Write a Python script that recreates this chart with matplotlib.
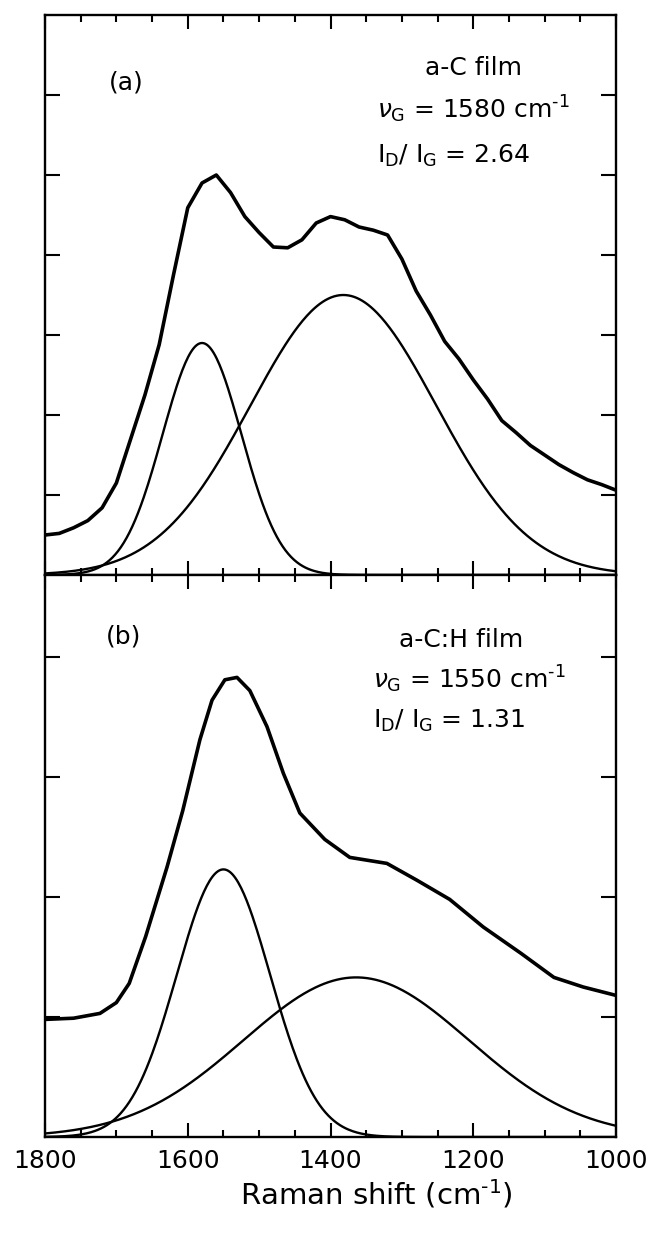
import numpy as np
import matplotlib
matplotlib.use("Agg")
import matplotlib.pyplot as plt
from matplotlib.ticker import MultipleLocator

plt.rcParams["font.family"] = ["DejaVu Sans"]
plt.rcParams["mathtext.fontset"] = "dejavusans"

shift_a = [1800, 1780, 1760, 1740, 1720, 1700, 1680, 1660, 1640, 1620, 1600,
           1580, 1560, 1540, 1520, 1500, 1480, 1460, 1440, 1420, 1400, 1380,
           1360, 1340, 1320, 1300, 1280, 1260, 1240, 1220, 1200, 1180, 1160,
           1140, 1120, 1100, 1080, 1060, 1040, 1020, 1000]
spec_a = [0.50, 0.52, 0.59, 0.68, 0.84, 1.15, 1.70, 2.25, 2.88, 3.75, 4.59,
          4.90, 5.00, 4.78, 4.48, 4.28, 4.10, 4.09, 4.19, 4.40, 4.48, 4.44,
          4.35, 4.31, 4.25, 3.95, 3.55, 3.25, 2.92, 2.70, 2.44, 2.20, 1.93,
          1.78, 1.62, 1.50, 1.38, 1.28, 1.19, 1.13, 1.06]

shift_b = [1800, 1760, 1723, 1700, 1682, 1659, 1629, 1607, 1583, 1566, 1548,
           1531, 1513, 1489, 1466, 1443, 1408, 1373, 1321, 1279, 1233, 1186,
           1133, 1087, 1046, 1000]
spec_b = [0.98, 0.99, 1.03, 1.12, 1.28, 1.67, 2.25, 2.72, 3.31, 3.64, 3.81,
          3.83, 3.72, 3.42, 3.03, 2.70, 2.48, 2.33, 2.28, 2.14, 1.98, 1.75,
          1.53, 1.33, 1.25, 1.18]

# --- fitted Gaussian components: (centre, FWHM, height) ---
g_peak_a = (1580, 130, 2.90)
d_peak_a = (1382, 306, 3.50)
g_peak_b = (1550, 154, 2.23)
d_peak_b = (1364, 372, 1.33)

inv_cm = "cm$^{\\mathrm{\u2010}1}$"
labels_a = ["a-C film", r"$\nu_{\rm G}$ = 1580 " + inv_cm, r"I$_{\rm D}$/ I$_{\rm G}$ = 2.64"]
labels_b = ["a-C:H film", r"$\nu_{\rm G}$ = 1550 " + inv_cm, r"I$_{\rm D}$/ I$_{\rm G}$ = 1.31"]
x_title = "Raman shift (" + inv_cm + ")"


def gauss(x, peak):
    c, w, h = peak
    s = w / 2.3548
    return h * np.exp(-0.5 * ((x - c) / s) ** 2)


W, H = 652, 1238
fig = plt.figure(figsize=(W / 100, H / 100), dpi=100)
left, width = 45 / W, 571 / W
ax_a = fig.add_axes([left, 1 - 575 / H, width, 560 / H])
ax_b = fig.add_axes([left, 1 - 1137 / H, width, 562 / H])

fs = 18
xs = np.linspace(1800, 1000, 400)
for ax, sx, sy, g, d in [(ax_a, shift_a, spec_a, g_peak_a, d_peak_a),
                         (ax_b, shift_b, spec_b, g_peak_b, d_peak_b)]:
    ax.plot(sx, sy, color="black", lw=2.6)
    ax.plot(xs, gauss(xs, g), color="black", lw=1.7)
    ax.plot(xs, gauss(xs, d), color="black", lw=1.7)
    ax.set_xlim(1800, 1000)
    ax.xaxis.set_major_locator(MultipleLocator(200))
    ax.xaxis.set_minor_locator(MultipleLocator(50))
    ax.tick_params(axis="x", which="major", direction="in", top=True, bottom=True,
                   length=10, width=1.5, labelsize=fs, pad=9)
    ax.tick_params(axis="x", which="minor", direction="in", top=True, bottom=True,
                   length=5, width=1.5)
    ax.tick_params(axis="y", direction="in", left=True, right=True,
                   length=11, width=1.5, labelleft=False)
    for sp in ax.spines.values():
        sp.set_linewidth(1.7)

ax_a.set_ylim(0, 7)
ax_a.set_yticks([1, 2, 3, 4, 5, 6])
ax_a.tick_params(axis="x", labelbottom=False)
ax_b.set_ylim(0, 562 / 120)
ax_b.set_yticks([1, 2, 3, 4])

ax_a.text(0.142, 0.88, "(a)", transform=ax_a.transAxes, fontsize=fs, ha="center", va="center")
ax_a.text(0.750, 0.893, labels_a[0], transform=ax_a.transAxes, fontsize=fs, ha="center", va="baseline")
ax_a.text(0.581, 0.816, labels_a[1], transform=ax_a.transAxes, fontsize=fs, ha="left", va="baseline")
ax_a.text(0.581, 0.736, labels_a[2], transform=ax_a.transAxes, fontsize=fs, ha="left", va="baseline")

ax_b.text(0.138, 0.890, "(b)", transform=ax_b.transAxes, fontsize=fs, ha="center", va="center")
ax_b.text(0.729, 0.872, labels_b[0], transform=ax_b.transAxes, fontsize=fs, ha="center", va="baseline")
ax_b.text(0.574, 0.799, labels_b[1], transform=ax_b.transAxes, fontsize=fs, ha="left", va="baseline")
ax_b.text(0.574, 0.728, labels_b[2], transform=ax_b.transAxes, fontsize=fs, ha="left", va="baseline")

fig.text(376 / W, 1 - 1204 / H, x_title, fontsize=21, ha="center", va="baseline")

fig.savefig("out.png", dpi=100)
